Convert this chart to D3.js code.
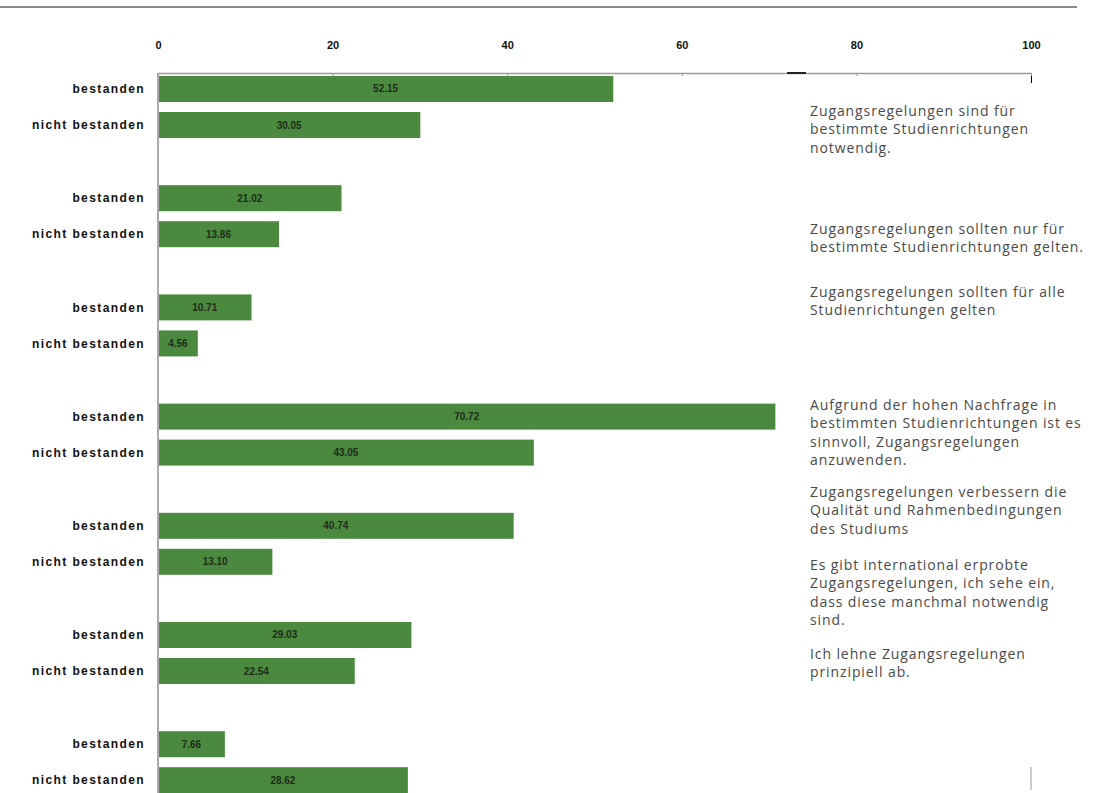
<!DOCTYPE html>
<html>
<head>
<meta charset="utf-8">
<script src="https://cdn.jsdelivr.net/npm/d3@7"></script>
<style>
  html, body { margin: 0; padding: 0; background: #fff; }
  svg { display: block; }
</style>
</head>
<body>
<svg id="chart" width="1097" height="793"></svg>
<script>
// ---- data ----
const groups = ["g1", "g2", "g3", "g4", "g5", "g6", "g7"];
const series = ["bestanden", "nicht bestanden"];
const bestandenValues = [52.15, 21.02, 10.71, 70.72, 40.74, 29.03, 7.66];
const nichtBestandenValues = [30.05, 13.86, 4.56, 43.05, 13.10, 22.54, 28.62];
const tickValues = [0, 20, 40, 60, 80, 100];
const statements = [
  ["Zugangsregelungen sind für", "bestimmte Studienrichtungen", "notwendig."],
  ["Zugangsregelungen sollten nur für", "bestimmte Studienrichtungen gelten."],
  ["Zugangsregelungen sollten für alle", "Studienrichtungen gelten"],
  ["Aufgrund der hohen Nachfrage in", "bestimmten Studienrichtungen ist es", "sinnvoll, Zugangsregelungen", "anzuwenden."],
  ["Zugangsregelungen verbessern die", "Qualität und Rahmenbedingungen", "des Studiums"],
  ["Es gibt international erprobte", "Zugangsregelungen, ich sehe ein,", "dass diese manchmal notwendig", "sind."],
  ["Ich lehne Zugangsregelungen", "prinzipiell ab."]
];

// ---- layout ----
const svg = d3.select("#chart");
const left = 158, right = 1031, axisY = 73;
const x = d3.scaleLinear().domain([0, 100]).range([left, right]);
const step = 109.2, top0 = 76;
const y = d3.scaleBand().domain(groups).range([top0, top0 + step * groups.length]).paddingInner(0).paddingOuter(0);
const ySub = d3.scaleBand().domain(series).range([0, 62]).paddingInner(0.278).paddingOuter(0);

const rows = [];
groups.forEach((g, i) => {
  rows.push({ g, s: series[0], v: bestandenValues[i] });
  rows.push({ g, s: series[1], v: nichtBestandenValues[i] });
});

// top rule (cropped title area)
svg.append("line").attr("x1", 0).attr("x2", 1077).attr("y1", 7).attr("y2", 7)
  .attr("stroke", "#8a8a8a").attr("stroke-width", 2);

// axis
const axis = d3.axisTop(x).tickValues(tickValues).tickSize(0).tickPadding(0).tickFormat(d3.format("d"));
const ax = svg.append("g").attr("transform", `translate(0,${axisY})`).call(axis);
ax.select(".domain").attr("stroke", "#9a9a9a").attr("stroke-width", 1.5);
ax.selectAll(".tick text")
  .attr("y", -24)
  .attr("font-family", "Liberation Sans, Arial, sans-serif")
  .attr("font-weight", "bold")
  .attr("font-size", 11)
  .attr("fill", "#111");
ax.selectAll(".tick").append("line").attr("y1", 0).attr("y2", 3).attr("stroke", "#999");
ax.select(".tick:last-of-type line").attr("y2", 10);
// dark segment on the axis line (as in the scan)
svg.append("line").attr("x1", 787).attr("x2", 806).attr("y1", axisY).attr("y2", axisY)
  .attr("stroke", "#222").attr("stroke-width", 2);

// vertical axis line
svg.append("line").attr("x1", left).attr("x2", left).attr("y1", axisY).attr("y2", 793)
  .attr("stroke", "#8f8f8f").attr("stroke-width", 1.5);

// bars
const barG = svg.append("g");
barG.selectAll("rect").data(rows).join("rect")
  .attr("x", x(0) + 1)
  .attr("y", d => y(d.g) + ySub(d.s))
  .attr("width", d => x(d.v) - x(0) - 1)
  .attr("height", ySub.bandwidth())
  .attr("fill", "#4b8a3e");

// value labels
barG.selectAll("text").data(rows).join("text")
  .attr("x", d => (x(0) + x(d.v)) / 2)
  .attr("y", d => y(d.g) + ySub(d.s) + ySub.bandwidth() / 2)
  .attr("dy", "0.35em")
  .attr("text-anchor", "middle")
  .attr("font-family", "Liberation Sans Narrow, Liberation Sans, Arial, sans-serif")
  .attr("font-weight", "bold")
  .attr("font-size", 10)
  .attr("fill", "#1e2a1a")
  .text(d => d3.format(".2f")(d.v));

// category labels
svg.append("g").selectAll("text").data(rows).join("text")
  .attr("x", 145)
  .attr("y", d => y(d.g) + ySub(d.s) + ySub.bandwidth() / 2)
  .attr("dy", "0.35em")
  .attr("text-anchor", "end")
  .attr("font-family", "Liberation Sans, Arial, sans-serif")
  .attr("font-weight", "bold")
  .attr("font-size", 12)
  .attr("letter-spacing", 1.4)
  .attr("fill", "#111")
  .text(d => d.s);

// statements on the right
const noteTops = [111, 229, 292, 405, 492, 565, 654];
const lineH = 18.4;
const notes = svg.append("g");
statements.forEach((lines, i) => {
  const t = notes.append("text")
    .attr("font-family", "Open Sans, sans-serif")
    .attr("font-size", 14)
    .attr("letter-spacing", 0.9)
    .attr("fill", "#4a4a4a");
  lines.forEach((ln, j) => {
    t.append("tspan").attr("x", 810).attr("y", noteTops[i] + j * lineH).attr("dy", "0.35em").text(ln);
  });
});

// small stray tick at bottom right
svg.append("line").attr("x1", x(100)).attr("x2", x(100)).attr("y1", 767).attr("y2", 790)
  .attr("stroke", "#999").attr("stroke-width", 1);
</script>
</body>
</html>
